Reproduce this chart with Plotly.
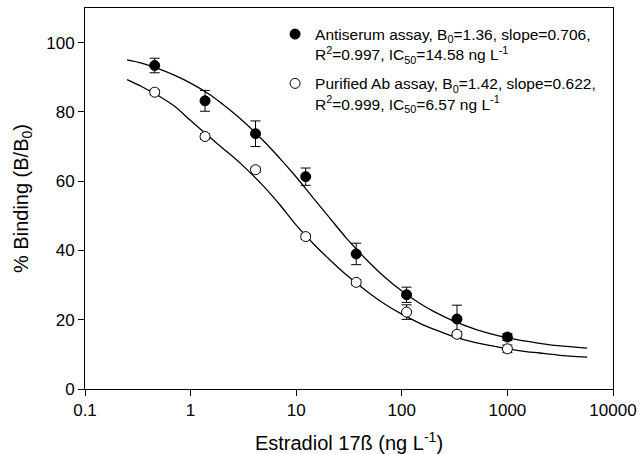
import plotly.graph_objects as go

# Measured points (estradiol concentration, ng/L)
conc = [0.457, 1.37, 4.12, 12.3, 37.0, 111, 333, 1000]
antiserum = [93.4, 83.2, 73.7, 61.3, 39.0, 27.2, 20.2, 15.0]
antiserum_err = [2.1, 3.0, 3.7, 2.5, 3.1, 2.2, 4.0, 1.0]
purified = [85.7, 72.9, 63.3, 44.0, 30.8, 22.2, 15.8, 11.6]
purified_err = [0.8, 0.8, 0.8, 0.8, 0.8, 2.1, 0.8, 1.1]

# Fitted curves
curve_x = [0.25, 0.35, 0.5, 0.7, 1, 1.5, 2, 3, 5, 7, 10, 15, 20, 30, 50, 70,
           100, 150, 200, 300, 500, 700, 1000, 1500, 2000, 3000, 5700]
curve_antiserum = [95.0, 94.0, 92.4, 90.6, 88.3, 85.1, 82.3, 77.9, 71.4, 66.6,
                   61.2, 54.6, 50.0, 43.5, 36.3, 32.1, 28.3, 24.6, 22.4, 19.8,
                   17.2, 15.9, 14.8, 13.8, 13.2, 12.5, 11.8]
curve_purified = [89.3, 87.2, 84.6, 81.7, 77.5, 72.8, 69.6, 65.0, 58.3, 53.2,
                  47.3, 41.5, 37.8, 32.9, 27.5, 24.4, 21.6, 18.9, 17.3, 15.3,
                  13.4, 12.5, 11.6, 10.8, 10.4, 9.8, 9.2]

x_tickvals = [0.1, 1, 10, 100, 1000, 10000]
x_ticktext = ["0.1", "1", "10", "100", "1000", "10000"]
y_tickvals = [0, 20, 40, 60, 80, 100]

name_a = ("Antiserum assay, B<sub>0</sub>=1.36, slope=0.706,<br>"
          "R<sup>2</sup>=0.997, IC<sub>50</sub>=14.58 ng L<sup>-1</sup>")
name_p = ("Purified Ab assay, B<sub>0</sub>=1.42, slope=0.622,<br>"
          "R<sup>2</sup>=0.999, IC<sub>50</sub>=6.57 ng L<sup>-1</sup>")

FONT = "Liberation Sans, Arial, Helvetica, sans-serif"

fig = go.Figure()
fig.add_trace(go.Scatter(x=curve_x, y=curve_antiserum, mode="lines",
                         line=dict(color="black", width=1.3, shape="spline"),
                         showlegend=False, hoverinfo="skip"))
fig.add_trace(go.Scatter(x=curve_x, y=curve_purified, mode="lines",
                         line=dict(color="black", width=1.3, shape="spline"),
                         showlegend=False, hoverinfo="skip"))
fig.add_trace(go.Scatter(x=conc, y=antiserum, mode="markers", name=name_a,
                         legendgroup="a",
                         marker=dict(symbol="circle", size=10, color="black",
                                     line=dict(color="black", width=1)),
                         error_y=dict(type="data", array=antiserum_err,
                                      color="black", thickness=1, width=5)))
fig.add_trace(go.Scatter(x=conc, y=purified, mode="markers", name=name_p,
                         legendgroup="p",
                         marker=dict(symbol="circle", size=10, color="white",
                                     line=dict(color="black", width=1)),
                         error_y=dict(type="data", array=purified_err,
                                      color="black", thickness=1, width=5)))

fig.update_layout(
    width=641, height=454,
    margin=dict(l=85, r=28, t=8, b=65),
    paper_bgcolor="white", plot_bgcolor="white",
    font=dict(family=FONT, color="black", size=17),
    legend=dict(x=0.36, y=0.975, xanchor="left", yanchor="top",
                font=dict(size=15.5, family=FONT), bgcolor="rgba(0,0,0,0)",
                valign="top", itemwidth=30, traceorder="grouped",
                tracegroupgap=6),
    xaxis=dict(type="log", range=[-1, 4], tickvals=x_tickvals,
               ticktext=x_ticktext, ticks="outside", ticklen=6,
               tickcolor="black", showline=True, linecolor="black",
               linewidth=1, mirror=True, showgrid=False, zeroline=False,
               automargin=False, tickfont=dict(size=17),
               title=dict(text="Estradiol 17ß (ng L<sup>-1</sup>)",
                          font=dict(size=20), standoff=18)),
    yaxis=dict(range=[0, 110], tickvals=y_tickvals, ticks="outside",
               ticklen=6, tickcolor="black", showline=True,
               linecolor="black", linewidth=1, mirror=True, showgrid=False,
               zeroline=False, automargin=False, tickfont=dict(size=17),
               title=dict(text="% Binding (B/B<sub>0</sub>)",
                          font=dict(size=20), standoff=12)),
)

fig.write_html("out.html")
